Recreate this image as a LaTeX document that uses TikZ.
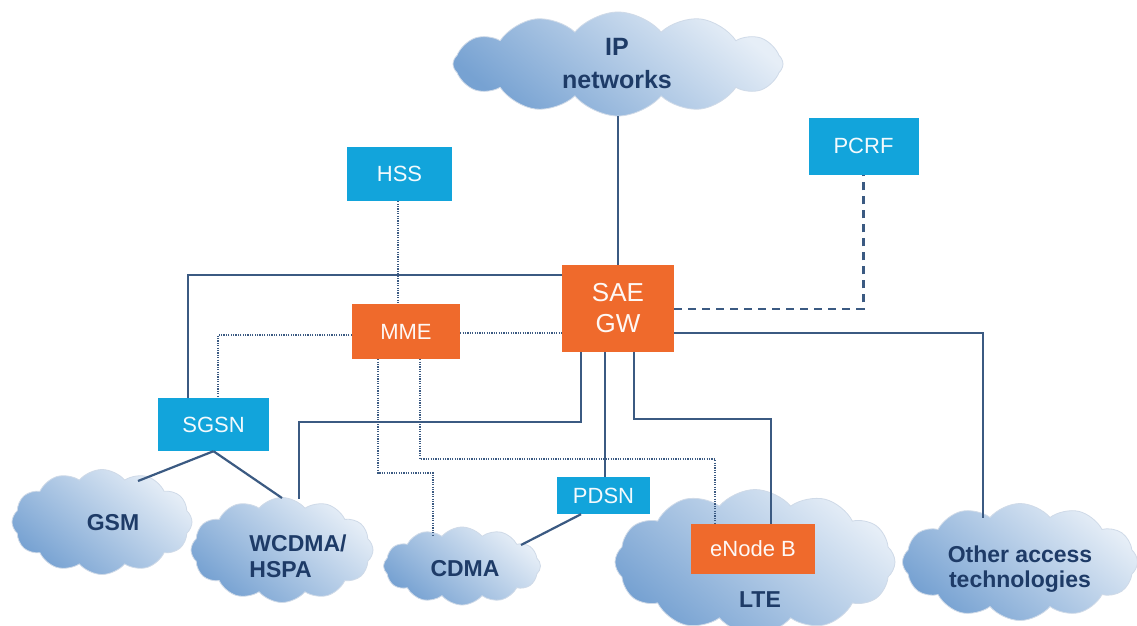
\documentclass[tikz,border=0pt]{standalone}
\usepackage{fontspec}
\setmainfont{Liberation Sans}
\usetikzlibrary{shapes.symbols,calc}
\definecolor{orng}{HTML}{EF6A2C}
\definecolor{cyanbox}{HTML}{12A4DB}
\definecolor{lnc}{HTML}{3B5A82}
\definecolor{cltxt}{HTML}{1E3B67}
\definecolor{cldark}{HTML}{77A2D2}
\definecolor{cllight}{HTML}{E6EEF7}
\definecolor{cledge}{HTML}{CFDAE8}
\begin{document}
\begin{tikzpicture}[x=1pt,y=-1pt,
  cloudst/.style={cloud, cloud puffs=12, cloud puff arc=100, cloud ignores aspect, draw=cledge, line width=0.8pt, inner sep=0pt, shading=axis, top color=cllight, bottom color=cldark, shading angle=-40},
  cltext/.style={font=\fontsize{23}{26}\selectfont\bfseries, text=cltxt, align=center, inner sep=0pt},
  bluebox/.style={fill=cyanbox, text=white!95!cyanbox, font=\fontsize{22}{26}\selectfont, inner sep=0pt},
  orangebox/.style={fill=orng, text=white!95!orng, font=\fontsize{22}{26}\selectfont, inner sep=0pt},
  sl/.style={draw=lnc, line width=2.2pt},
  dl/.style={draw=lnc, line width=1.8pt, dash pattern=on 1.2pt off 1.2pt},
  dsh/.style={draw=lnc, line width=2.2pt, dash pattern=on 8pt off 6pt}
]
\useasboundingbox (0,0) rectangle (1137,626);
\fill[white] (0,0) rectangle (1137,626);

% clouds
\node[cloudst, minimum width=330pt, minimum height=104pt] (ip) at (618,64) {};
\node[cloudst, minimum width=180pt, minimum height=105pt] (gsm) at (102,522) {};
\node[cloudst, minimum width=182pt, minimum height=105pt] (wcdma) at (282,550) {};
\node[cloudst, minimum width=157pt, minimum height=78pt] (cdma) at (462,566) {};
\node[cloudst, minimum width=280pt, minimum height=145pt] (lte) at (755,562) {};
\node[cloudst, minimum width=235pt, minimum height=117pt] (other) at (1020,562) {};

% cloud labels
\node[cltext, font=\fontsize{25}{33}\selectfont\bfseries] (iptxt) at (617,64) {IP\\networks};
\node[cltext] (gsmtxt) at (113,523) {GSM};
\node[cltext, align=left] (wctxt) at (298,556) {WCDMA/\\HSPA};
\node[cltext] (cdmatxt) at (465,569) {CDMA};
\node[cltext] (ltetxt) at (760,600) {LTE};
\node[cltext, font=\fontsize{23}{25}\selectfont\bfseries] (othtxt) at (1020,569) {Other access\\technologies};

% boxes
\node[bluebox, minimum width=105pt, minimum height=54pt] (hss) at (399.5,174) {HSS};
\node[bluebox, minimum width=110pt, minimum height=57pt] (pcrf) at (863.5,146) {PCRF};
\node[orangebox, minimum width=112pt, minimum height=87pt, font=\fontsize{26}{31}\selectfont, align=center] (sae) at (618,308.5) {SAE\\GW};
\node[orangebox, minimum width=108pt, minimum height=55pt] (mme) at (406,331.5) {MME};
\node[bluebox, minimum width=111pt, minimum height=53pt] (sgsn) at (213.5,424.5) {SGSN};
\node[bluebox, minimum width=93pt, minimum height=37pt] (pdsn) at (603.5,495.5) {PDSN};
\node[orangebox, minimum width=124pt, minimum height=50pt] (enb) at (753,549) {eNode B};

% free ends on cloud edges
\coordinate (gsmtop) at (138,481);
\coordinate (wcnw) at (282,498);
\coordinate (wctop) at (299,499);
\coordinate (cdmatop) at (521,545);
\coordinate (cdmadot) at (433,536);
\coordinate (othtop) at (983,518);

% solid connectors
\draw[sl] (ip) -- (sae);
\draw[sl] (sae.west |- 0,275) -| (sgsn.north -| 188,0);
\draw[sl] (sae.east |- 0,333) -| (othtop);
\draw[sl] (sae.south -| 581,0) |- (wctop |- 0,422) -- (wctop);
\draw[sl] (sae.south -| 605,0) -- (pdsn.north -| 605,0);
\draw[sl] (sae.south -| 634,0) |- (771,419) -- (enb.north -| 771,0);
\draw[sl] (sgsn.south) -- (gsmtop);
\draw[sl] (sgsn.south) -- (wcnw);
\draw[sl] (pdsn.south -| 581,0) -- (cdmatop);

% dashed
\draw[dsh] (sae.east |- 0,309) -| (pcrf.south);

% dotted
\draw[dl] (hss.south -| 398,0) -- (mme.north -| 398,0);
\draw[dl] (mme.east |- 0,333) -- (sae.west |- 0,333);
\draw[dl] (mme.west |- 0,335) -| (sgsn.north -| 218,0);
\draw[dl] (mme.south -| 378,0) |- (cdmadot |- 0,473) -- (cdmadot);
\draw[dl] (mme.south -| 420,0) |- (715,459) -- (enb.north -| 715,0);
\end{tikzpicture}
\end{document}
